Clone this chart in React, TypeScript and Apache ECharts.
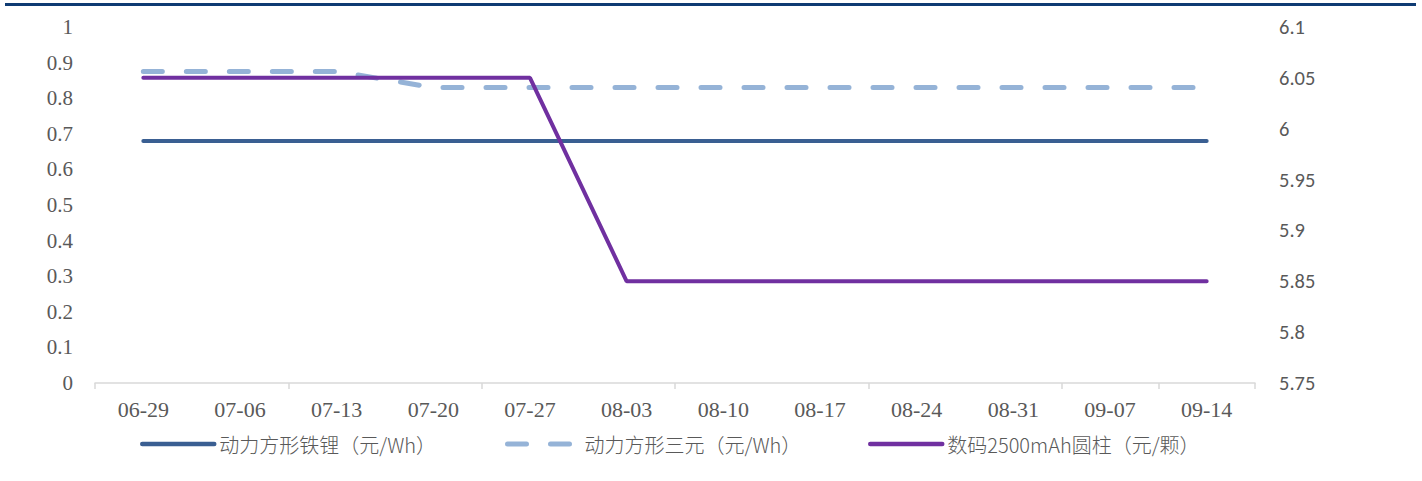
import React, { useEffect, useRef } from "react";
import * as echarts from "echarts";

// Weekly battery cell prices
const weeks = ["06-29", "07-06", "07-13", "07-20", "07-27", "08-03", "08-10", "08-17", "08-24", "08-31", "09-07", "09-14"];
const lfpPrice = [0.68, 0.68, 0.68, 0.68, 0.68, 0.68, 0.68, 0.68, 0.68, 0.68, 0.68, 0.68];
const ncmPrice = [0.875, 0.875, 0.875, 0.83, 0.83, 0.83, 0.83, 0.83, 0.83, 0.83, 0.83, 0.83];
const cylPrice = [6.05, 6.05, 6.05, 6.05, 6.05, 5.85, 5.85, 5.85, 5.85, 5.85, 5.85, 5.85];

const seriesNames = ["动力方形铁锂（元/Wh）", "动力方形三元（元/Wh）", "数码2500mAh圆柱（元/颗）"];

const GREY = "#595959";
const SERIF = "'Times New Roman', 'Liberation Serif', serif";
const SANS = "Calibri, 'Liberation Sans', sans-serif";
const CJK = "'Noto Sans CJK SC', sans-serif";

const DASH = [19, 24];

export default function App() {
  const ref = useRef<HTMLDivElement>(null);

  useEffect(() => {
    if (!ref.current) return;
    const chart = echarts.init(ref.current, undefined, { renderer: "svg" });

    // one legend per series so each entry sits at its own x position
    const legendAt = (name: string, left: number, lineStyle: object) => ({
      data: [name],
      left,
      top: 434,
      padding: 0,
      itemWidth: 72,
      itemHeight: 14,
      itemStyle: { opacity: 0 },
      lineStyle,
      textStyle: { color: GREY, fontSize: 20, fontWeight: 300, fontFamily: CJK },
    });

    chart.setOption({
      animation: false,
      backgroundColor: "#ffffff",
      grid: { left: 95, right: 167, top: 27, bottom: 98, containLabel: false },
      graphic: [
        {
          type: "line",
          shape: { x1: 5, y1: 4.5, x2: 1416, y2: 4.5 },
          style: { stroke: "#0f3b73", lineWidth: 3 },
        },
      ],
      legend: [
        legendAt(seriesNames[0], 140, { width: 4.5, cap: "round" }),
        legendAt(seriesNames[1], 505, { width: 5, type: DASH, cap: "round" }),
        legendAt(seriesNames[2], 868, { width: 4.5, cap: "round" }),
      ],
      xAxis: {
        type: "category",
        data: weeks,
        boundaryGap: true,
        axisLine: { lineStyle: { color: "#d9d9d9", width: 1.5 } },
        axisTick: { show: true, interval: 1, length: 6, lineStyle: { color: "#d9d9d9", width: 1.5 } },
        axisLabel: { interval: 0, color: GREY, fontSize: 22, fontFamily: SERIF, margin: 15 },
      },
      yAxis: [
        {
          type: "value",
          min: 0,
          max: 1,
          interval: 0.1,
          splitLine: { show: false },
          axisLine: { show: false },
          axisTick: { show: false },
          axisLabel: { color: GREY, fontSize: 21, fontFamily: SERIF, margin: 22 },
        },
        {
          type: "value",
          min: 5.75,
          max: 6.1,
          interval: 0.05,
          position: "right",
          splitLine: { show: false },
          axisLine: { show: false },
          axisTick: { show: false },
          axisLabel: { color: GREY, fontSize: 20.5, fontFamily: SANS, margin: 24 },
        },
      ],
      series: [
        {
          name: seriesNames[0],
          type: "line",
          yAxisIndex: 0,
          data: lfpPrice,
          symbol: "none",
          lineStyle: { color: "#3a5f92", width: 4, cap: "round" },
          itemStyle: { color: "#3a5f92" },
        },
        {
          name: seriesNames[1],
          type: "line",
          yAxisIndex: 0,
          data: ncmPrice,
          symbol: "none",
          lineStyle: { color: "#95b3d7", width: 5, type: DASH, cap: "round" },
          itemStyle: { color: "#95b3d7" },
        },
        {
          name: seriesNames[2],
          type: "line",
          yAxisIndex: 1,
          data: cylPrice,
          symbol: "none",
          lineStyle: { color: "#7030a0", width: 4, cap: "round" },
          itemStyle: { color: "#7030a0" },
        },
      ],
    });

    return () => chart.dispose();
  }, []);

  return (
    <div
      ref={ref}
      style={{ position: "fixed", left: 0, top: 0, width: 1422, height: 481, background: "#fff" }}
    />
  );
}
